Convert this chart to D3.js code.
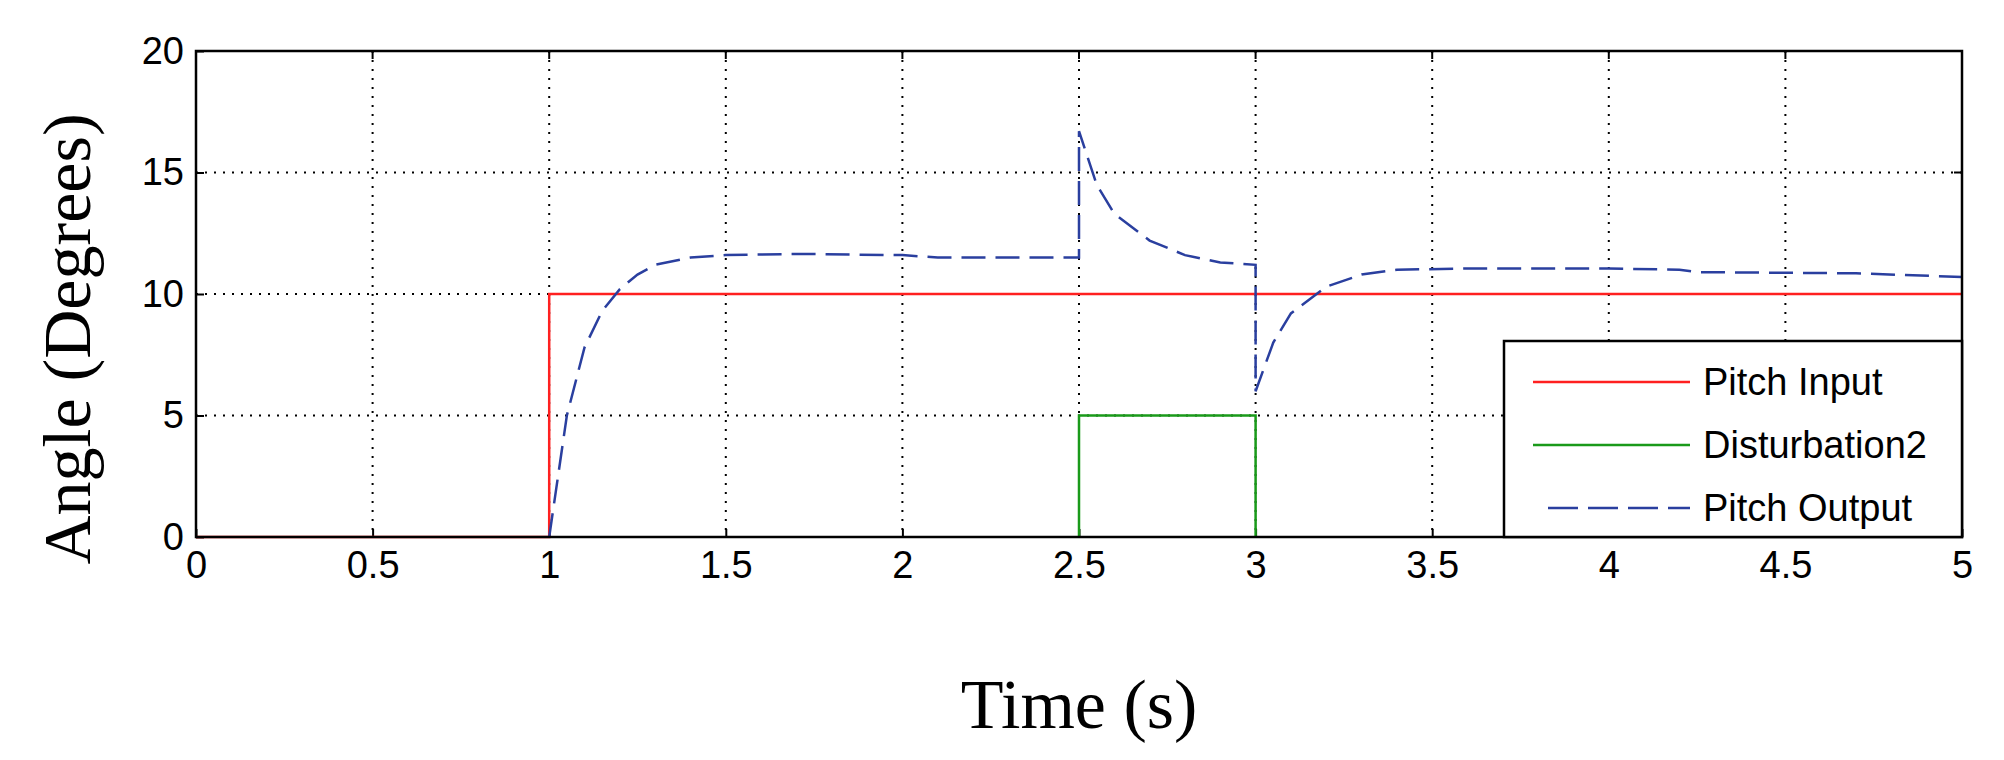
<!DOCTYPE html>
<html><head><meta charset="utf-8">
<script src="https://cdn.jsdelivr.net/npm/d3@7"></script>
<style>body{margin:0;background:#fff}</style>
</head><body>
<svg id="chart" width="2004" height="760"></svg>
<script>
// tick labels
var xTicks = [0, 0.5, 1, 1.5, 2, 2.5, 3, 3.5, 4, 4.5, 5];
var yTicks = [0, 5, 10, 15, 20];
// series
var inputT = [0, 1, 1, 5];
var inputV = [0, 0, 10, 10];
var distT = [2.5, 2.5, 3, 3];
var distV = [0, 5, 5, 0];
var outT = [1, 1.02, 1.05, 1.1, 1.15, 1.2, 1.25, 1.3, 1.4, 1.5, 1.7, 2.0, 2.1, 2.5, 2.5, 2.55, 2.6, 2.7, 2.8, 2.9, 3.0, 3.0, 3.05, 3.1, 3.2, 3.3, 3.4, 3.6, 4.0, 4.2, 4.25, 4.7, 5];
var outV = [0, 2, 5, 7.8, 9.3, 10.2, 10.8, 11.2, 11.5, 11.6, 11.65, 11.6, 11.5, 11.5, 16.7, 14.5, 13.3, 12.2, 11.6, 11.3, 11.2, 6, 8, 9.2, 10.3, 10.8, 11.0, 11.05, 11.05, 11.0, 10.9, 10.85, 10.7];
var legendNames = ["Pitch Input", "Disturbation2", "Pitch Output"];

var L = 196, R = 1962, T = 51, B = 537;
var svg = d3.select("#chart");
var x = d3.scaleLinear().domain([0, 5]).range([L, R]);
var y = d3.scaleLinear().domain([0, 20]).range([B, T]);

// grid
var g = svg.append("g");
g.selectAll(".gx").data(xTicks.slice(1, -1)).enter().append("line")
    .attr("x1", d => x(d)).attr("x2", d => x(d)).attr("y1", T).attr("y2", B)
    .attr("stroke", "#000").attr("stroke-width", 2).attr("stroke-dasharray", "2,7");
g.selectAll(".gy").data(yTicks.slice(1, -1)).enter().append("line")
    .attr("y1", d => y(d)).attr("y2", d => y(d)).attr("x1", L).attr("x2", R)
    .attr("stroke", "#000").attr("stroke-width", 2).attr("stroke-dasharray", "2,7");

// axes
var font = "'Liberation Sans Narrow', 'Liberation Sans', Arial, sans-serif";
var xa = svg.append("g").attr("transform", "translate(0," + B + ")")
    .call(d3.axisBottom(x).tickValues(xTicks).tickSize(-8).tickPadding(14).tickFormat(d3.format("")));
var ya = svg.append("g").attr("transform", "translate(" + L + ",0)")
    .call(d3.axisLeft(y).tickValues(yTicks).tickSize(-8).tickPadding(12));
[xa, ya].forEach(function(a){
    a.select(".domain").remove();
    a.selectAll("line").attr("stroke", "#000").attr("stroke-width", 2);
    a.selectAll("text").attr("font-family", font).attr("font-size", 38).attr("fill", "#000");
});
// right/top ticks
svg.selectAll(".tt").data(xTicks).enter().append("line")
    .attr("x1", d => x(d)).attr("x2", d => x(d)).attr("y1", T).attr("y2", T + 8)
    .attr("stroke", "#000").attr("stroke-width", 2);
svg.selectAll(".rt").data(yTicks).enter().append("line")
    .attr("y1", d => y(d)).attr("y2", d => y(d)).attr("x1", R).attr("x2", R - 8)
    .attr("stroke", "#000").attr("stroke-width", 2);

var line = d3.line().x(d => x(d[0])).y(d => y(d[1]));
svg.append("path").datum(inputT.map((t, i) => [t, inputV[i]])).attr("d", line)
    .attr("fill", "none").attr("stroke", "#ff2020").attr("stroke-width", 2.5);
svg.append("path").datum(distT.map((t, i) => [t, distV[i]])).attr("d", line)
    .attr("fill", "none").attr("stroke", "#1a9a1a").attr("stroke-width", 2.5);
svg.append("path").datum(outT.map((t, i) => [t, outV[i]])).attr("d", line)
    .attr("fill", "none").attr("stroke", "#2a3f9f").attr("stroke-width", 2.5).attr("stroke-dasharray", "24,10");

// frame
svg.append("rect").attr("x", L).attr("y", T).attr("width", R - L).attr("height", B - T)
    .attr("fill", "none").attr("stroke", "#000").attr("stroke-width", 2.5);

// legend
var lg = svg.append("g");
lg.append("rect").attr("x", 1504).attr("y", 341).attr("width", R - 1504).attr("height", B - 341)
    .attr("fill", "#fff").attr("stroke", "#000").attr("stroke-width", 2.5);
var lcol = ["#ff2020", "#1a9a1a", "#2a3f9f"];
legendNames.forEach(function(n, i){
    var yy = 382 + i * 63;
    lg.append("line").attr("x1", i == 2 ? 1548 : 1533).attr("x2", 1690).attr("y1", yy).attr("y2", yy)
        .attr("stroke", lcol[i]).attr("stroke-width", 2.5)
        .attr("stroke-dasharray", i == 2 ? "30,10" : null);
    lg.append("text").attr("x", 1703).attr("y", yy + 13).text(n)
        .attr("font-family", font).attr("font-size", 38).attr("fill", "#000");
});

// titles
svg.append("text").attr("x", x(2.5)).attr("y", 728).attr("text-anchor", "middle")
    .attr("font-family", "'Liberation Serif', 'DejaVu Serif', serif").attr("font-size", 70).text("Time (s)");
svg.append("text").attr("transform", "translate(90," + ((T + B) / 2 + 45) + ") rotate(-90)")
    .attr("text-anchor", "middle")
    .attr("font-family", "'Liberation Serif', 'DejaVu Serif', serif").attr("font-size", 68).text("Angle (Degrees)");
</script>
</body></html>
